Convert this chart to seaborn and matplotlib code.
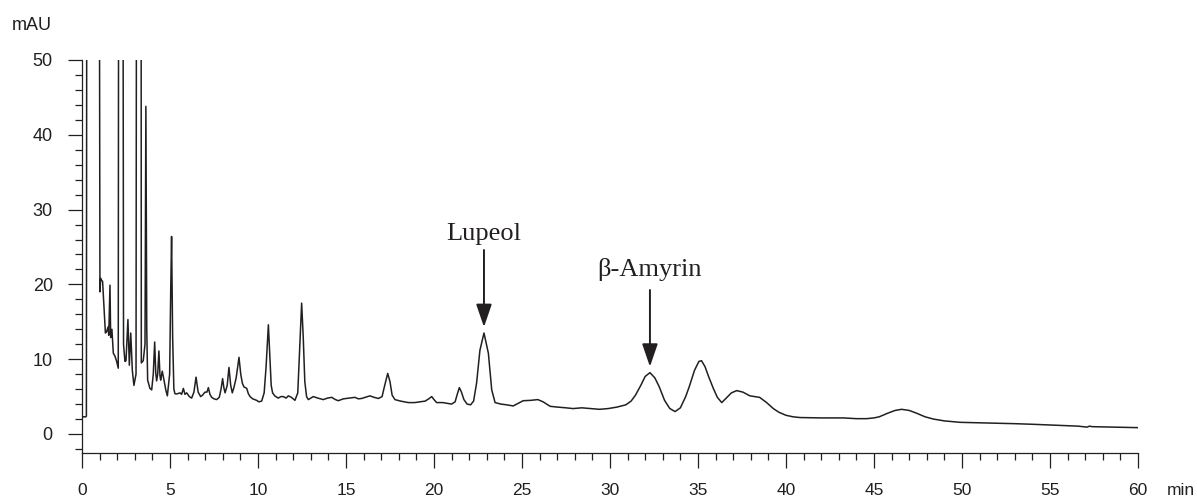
import numpy as np
import pandas as pd
import matplotlib
matplotlib.use("Agg")
import matplotlib.pyplot as plt
from matplotlib.ticker import MultipleLocator
import seaborn as sns

# ---- data (retention time in min, absorbance in mAU) ----
time_min = [
    0.00, 0.22, 0.25, 0.29, 0.95, 1.02, 1.06, 1.10, 1.17, 1.25, 1.33, 1.40, 1.48, 1.52,
    1.59, 1.63, 1.70, 1.78, 1.875, 1.97, 2.06, 2.10, 2.30, 2.36, 2.44, 2.50, 2.61, 2.69,
    2.77, 2.86, 2.95, 3.07, 3.12, 3.35, 3.37, 3.48, 3.58, 3.63, 3.68, 3.73, 3.86, 3.96,
    4.05, 4.13, 4.19, 4.24, 4.30, 4.37, 4.43, 4.47, 4.56, 4.66, 4.76, 4.85, 4.98, 5.04,
    5.09, 5.15, 5.22, 5.28, 5.34, 5.45, 5.57, 5.66, 5.76, 5.85, 5.95, 6.10, 6.23, 6.36,
    6.48, 6.60, 6.74, 6.85, 6.99, 7.10, 7.18, 7.27, 7.37, 7.50, 7.65, 7.80, 7.90, 7.99,
    8.06, 8.13, 8.25, 8.35, 8.45, 8.54, 8.63, 8.76, 8.92, 9.02, 9.11, 9.20, 9.36, 9.45,
    9.55, 9.70, 9.92, 10.05, 10.21, 10.35, 10.46, 10.59, 10.68, 10.75, 10.83, 10.95,
    11.15, 11.30, 11.44, 11.60, 11.72, 11.90, 12.10, 12.26, 12.38, 12.48, 12.57, 12.66,
    12.76, 12.86, 13.00, 13.14, 13.40, 13.71, 13.95, 14.19, 14.40, 14.56, 14.85, 15.20,
    15.51, 15.70, 15.89, 16.10, 16.36, 16.60, 16.84, 17.05, 17.20, 17.37, 17.50, 17.62,
    17.78, 18.10, 18.54, 18.90, 19.20, 19.50, 19.70, 19.87, 20.00, 20.15, 20.50, 21.00,
    21.20, 21.32, 21.44, 21.56, 21.70, 21.88, 22.08, 22.25, 22.42, 22.61, 22.84, 23.09,
    23.28, 23.47, 23.80, 24.13, 24.50, 25.07, 25.50, 25.90, 26.20, 26.60,
    27.00, 27.50, 27.90, 28.40, 28.90, 29.40, 29.90, 30.40, 30.90, 31.20, 31.45, 31.75,
    32.00, 32.27, 32.55, 32.80, 33.10, 33.40, 33.70, 34.00, 34.30, 34.50, 34.80, 35.05,
    35.20, 35.40, 35.60, 35.87, 36.10, 36.35, 36.60, 36.90, 37.20, 37.55, 37.95, 38.50,
    38.90, 39.28, 39.60, 40.00, 40.40, 40.80, 42.00, 43.26, 44.00, 44.58, 45.00, 45.30,
    45.80, 46.20, 46.57, 47.00, 47.40, 47.90, 48.37, 49.00, 49.90, 51.00, 52.20, 53.00,
    54.00, 55.00, 55.90, 56.60, 57.10, 57.25, 57.40, 58.00, 58.60, 59.20, 60.00,
]
signal_mau = [
    2.3, 2.3, 2.4, 120.0, 120.0, 19.0, 20.8, 20.6, 20.4, 17.0, 13.5, 13.7, 14.3, 13.2,
    19.9, 12.9, 14.0, 10.8, 10.4, 9.7, 8.8, 120.0, 120.0, 12.0, 9.7, 9.8, 15.3, 9.2,
    13.5, 8.5, 6.5, 8.0, 120.0, 120.0, 9.5, 9.8, 12.0, 43.8, 14.0, 7.2, 6.1, 5.9,
    8.0, 12.3, 8.2, 7.1, 8.0, 11.1, 7.8, 7.2, 8.4, 7.2, 5.9, 5.1, 8.0, 19.0,
    26.4, 13.0, 6.0, 5.4, 5.35, 5.4, 5.5, 5.3, 6.1, 5.3, 5.5, 5.0, 4.8, 5.6,
    7.6, 5.6, 5.0, 5.2, 5.6, 5.6, 6.2, 5.3, 4.9, 4.7, 4.6, 4.9, 6.0, 7.4,
    6.2, 5.5, 6.5, 8.9, 6.5, 5.5, 6.2, 7.5, 10.25, 8.0, 6.8, 6.3, 6.1, 5.4,
    5.0, 4.7, 4.5, 4.3, 4.4, 5.5, 9.0, 14.6, 10.0, 6.5, 5.5, 5.1,
    4.8, 5.0, 5.0, 4.8, 5.1, 4.9, 4.5, 5.5, 12.0, 17.5, 13.0, 7.0,
    5.0, 4.6, 4.8, 5.0, 4.8, 4.6, 4.8, 4.9, 4.6, 4.45, 4.7, 4.8,
    4.9, 4.7, 4.75, 4.9, 5.1, 4.9, 4.75, 5.0, 6.5, 8.1, 7.0, 5.2,
    4.6, 4.4, 4.2, 4.2, 4.3, 4.4, 4.7, 5.0, 4.6, 4.2, 4.2, 4.0,
    4.3, 5.3, 6.2, 5.6, 4.6, 4.0, 3.9, 4.4, 6.8, 11.2, 13.5, 10.8,
    5.9, 4.2, 4.0, 3.9, 3.75, 4.45, 4.5, 4.6, 4.3, 3.7,
    3.6, 3.5, 3.4, 3.5, 3.4, 3.3, 3.4, 3.6, 3.9, 4.4, 5.2, 6.5,
    7.7, 8.2, 7.5, 6.3, 4.5, 3.4, 3.0, 3.5, 5.0, 6.3, 8.5, 9.7,
    9.8, 9.0, 7.7, 6.1, 4.9, 4.2, 4.8, 5.5, 5.8, 5.6, 5.1, 4.9,
    4.2, 3.4, 2.9, 2.5, 2.3, 2.2, 2.15, 2.15, 2.05, 2.05, 2.15, 2.3,
    2.8, 3.15, 3.3, 3.15, 2.8, 2.3, 2.0, 1.75, 1.56, 1.5, 1.42, 1.38,
    1.3, 1.2, 1.1, 1.05, 0.92, 1.05, 0.98, 0.95, 0.92, 0.9, 0.85,
]

annot_labels = ["Lupeol", "\u03b2-Amyrin"]
annot_time = [22.84, 32.27]
annot_tail = [24.6, 19.25]
annot_tip = [14.3, 9.0]
annot_text_y = [26.0, 21.1]

x_ticks = [0, 5, 10, 15, 20, 25, 30, 35, 40, 45, 50, 55, 60]
y_ticks = [0, 10, 20, 30, 40, 50]

df = pd.DataFrame({"time": time_min, "mAU": signal_mau})

sns.set_style("ticks")
plt.rcParams["font.family"] = ["Liberation Sans", "DejaVu Sans"]

fig = plt.figure(figsize=(11.97, 5.0), dpi=100)
ax = fig.add_axes([0.0685, 0.0946, 0.8822, 0.7854])

sns.lineplot(data=df, x="time", y="mAU", ax=ax, color="#231f20",
             linewidth=1.1, estimator=None, sort=False)

ax.set_xlim(0, 60)
ax.set_ylim(-2.5, 50)
ax.set_xlabel("")
ax.set_ylabel("")

for s in ["top", "right"]:
    ax.spines[s].set_visible(False)
for s in ["left", "bottom"]:
    ax.spines[s].set_linewidth(0.9)
    ax.spines[s].set_color("#231f20")

ax.set_xticks(x_ticks)
ax.set_yticks(y_ticks)
ax.xaxis.set_minor_locator(MultipleLocator(1))
ax.yaxis.set_minor_locator(MultipleLocator(2))
ax.tick_params(axis="x", which="major", length=11, width=0.9, pad=10.5,
               labelsize=12.5, color="#231f20", labelcolor="#231f20")
ax.tick_params(axis="x", which="minor", length=5, width=0.9, color="#231f20")
ax.tick_params(axis="y", which="major", length=10, width=0.9, pad=11,
               labelsize=13, color="#231f20", labelcolor="#231f20")
ax.tick_params(axis="y", which="minor", length=5, width=0.9, color="#231f20")

for lab, t, tail, tip, ty in zip(annot_labels, annot_time, annot_tail,
                                 annot_tip, annot_text_y):
    ax.annotate("", xy=(t, tip), xytext=(t, tail),
                arrowprops=dict(arrowstyle="-|>,head_length=0.7,head_width=0.24",
                                color="#231f20", lw=1.4, mutation_scale=20,
                                shrinkA=0, shrinkB=0))
    ax.text(t, ty, lab, ha="center", va="baseline", fontsize=19,
            family=["Liberation Serif", "DejaVu Serif"], color="#231f20")

fig.text(32 / 1197, 1 - 30 / 500, "mAU", ha="center", va="baseline",
         fontsize=13, color="#231f20")
fig.text(1167 / 1197, 1 - 495 / 500, "min", ha="left", va="baseline",
         fontsize=12.5, color="#231f20")

fig.savefig("out.png", dpi=100)
